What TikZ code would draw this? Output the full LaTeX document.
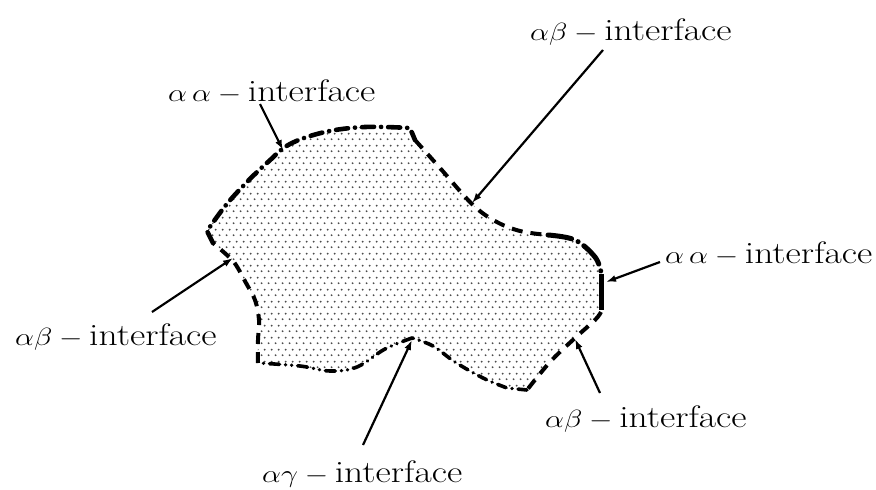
\documentclass[tikz,border=0pt]{standalone}
\usetikzlibrary{patterns,arrows.meta}
\pgfdeclarepatternformonly{mydots}{\pgfqpoint{0pt}{0pt}}{\pgfqpoint{6.6pt}{12pt}}{\pgfqpoint{6.6pt}{12pt}}{%
  \pgfpathcircle{\pgfqpoint{1.65pt}{3pt}}{1.1pt}%
  \pgfpathcircle{\pgfqpoint{4.95pt}{9pt}}{1.1pt}%
  \pgfusepath{fill}}
\newcommand{\widelab}[1]{\scalebox{1.21}[1]{#1}}
\begin{document}
\begin{tikzpicture}[x=1pt,y=-1pt,
  lab/.style={font=\fontsize{31}{36}\selectfont, inner sep=0pt, anchor=base west},
  ptr/.style={line width=2.2pt, -{Latex[length=10pt,width=7pt]}},
  bnd/.style={line width=4pt},
  dashdotthick/.style={bnd, line width=4.6pt, line cap=round, dash pattern=on 12pt off 7pt on 0.1pt off 7pt},
  dashedb/.style={bnd, line cap=butt, dash pattern=on 11pt off 8pt},
  dashdotb/.style={bnd, line width=3.6pt, line cap=round, dash pattern=on 9pt off 6pt on 0.1pt off 6pt},
  dashdotdotb/.style={bnd, line width=3.6pt, line cap=round, dash pattern=on 10pt off 6pt on 0.1pt off 6pt on 0.1pt off 6pt},
  solidthick/.style={bnd, line width=5pt, line cap=round, dash pattern=on 24pt off 7pt on 0.1pt off 7pt}]
\useasboundingbox (0,0) rectangle (876,490);

% filled grain
\fill[pattern=mydots, pattern color=black!70]
  (213,243) -- (207,231)
  -- plot[smooth,tension=0.6] coordinates {(207,231) (226,205) (248,181) (268,162) (290,144) (325,132) (365,127) (410,128)}
  -- (415,140)
  -- plot[smooth,tension=0.6] coordinates {(415,140) (440,168) (472,204) (495,221) (520,231) (548,235)}
  -- plot[smooth,tension=0.6] coordinates {(548,235) (575,240) (595,257) (601,272)}
  -- (601,310)
  -- plot[smooth,tension=0.6] coordinates {(601,310) (595,320) (575,338) (550,362) (527,390)}
  -- (507,388)
  -- plot[smooth,tension=0.6] coordinates {(507,388) (483,378) (455,362) (433,346) (412,338)}
  -- plot[smooth,tension=0.6] coordinates {(412,338) (385,349) (357,367) (330,371) (300,366) (258,363)}
  -- plot[smooth,tension=0.6] coordinates {(258,363) (258,340) (259,320) (255,300) (246,283) (236,265) (228,256) (213,243)}
  -- cycle;

% boundary segments
\draw[dashdotthick] (213,243) -- (207,231)
  -- plot[smooth,tension=0.6] coordinates {(207,231) (226,205) (248,181) (268,162) (290,144) (325,132) (365,127) (410,128)}
  -- (415,140);
\draw[dashedb] plot[smooth,tension=0.6] coordinates {(415,140) (440,168) (472,204) (495,221) (520,231) (548,235)};
\draw[solidthick] plot[smooth,tension=0.6] coordinates {(548,235) (575,240) (595,257) (601,272)};
\draw[bnd, line width=5pt] (601,274) -- (601,310);
\draw[dashedb] plot[smooth,tension=0.6] coordinates {(601,312) (595,320) (575,338) (550,362) (527,390)};
\draw[dashdotb] (527,390) -- (507,388)
  -- plot[smooth,tension=0.6] coordinates {(507,388) (483,378) (455,362) (433,346) (412,338)};
\draw[dashdotdotb] plot[smooth,tension=0.6] coordinates {(412,338) (385,349) (357,367) (330,371) (300,366) (258,363)};
\draw[dashedb] plot[smooth,tension=0.6] coordinates {(258,363) (258,340) (259,320) (255,300) (246,283) (236,265) (228,256) (213,243)};

% labels
\node[lab] (l1) at (168,101) {\widelab{$\alpha\,\alpha-\mbox{interface}$}};
\node[lab] (l2) at (530,40)  {\widelab{$\alpha\beta-\mbox{interface}$}};
\node[lab] (l3) at (665,263) {\widelab{$\alpha\,\alpha-\mbox{interface}$}};
\node[lab] (l4) at (15,345)  {\widelab{$\alpha\beta-\mbox{interface}$}};
\node[lab] (l5) at (545,427) {\widelab{$\alpha\beta-\mbox{interface}$}};
\node[lab] (l6) at (262,482) {\widelab{$\alpha\gamma-\mbox{interface}$}};

% arrow ends
\coordinate (s1) at (260,104); \coordinate (t1) at (283,150);
\coordinate (s2) at (603,50);  \coordinate (t2) at (472,203);
\coordinate (s3) at (660,262); \coordinate (t3) at (606,282);
\coordinate (s4) at (152,312); \coordinate (t4) at (233,258);
\coordinate (s5) at (600,393); \coordinate (t5) at (575,339);
\coordinate (s6) at (363,445); \coordinate (t6) at (412,340);

\draw[ptr] (s1) -- (t1);
\draw[ptr] (s2) -- (t2);
\draw[ptr] (s3) -- (t3);
\draw[ptr] (s4) -- (t4);
\draw[ptr] (s5) -- (t5);
\draw[ptr] (s6) -- (t6);
\end{tikzpicture}
\end{document}
